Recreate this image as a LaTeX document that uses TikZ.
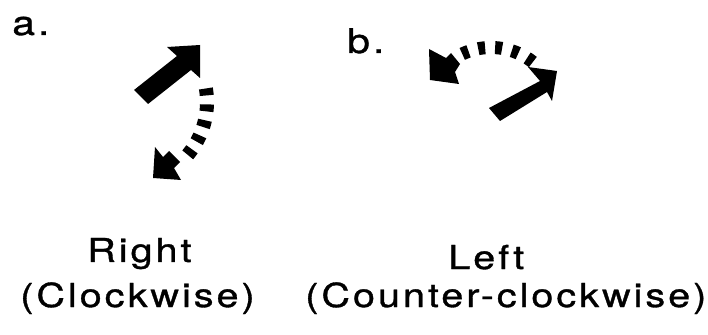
\documentclass[tikz,border=0pt]{standalone}
\usepackage{fontspec}
\setmainfont{TeX Gyre Heros}
\newfontfamily\capfont[LetterSpace=9,FakeStretch=1.2,FakeBold=1]{TeX Gyre Heros}
\begin{document}
\begin{tikzpicture}[x=0.75pt,y=-0.75pt,
  dasharc/.style={draw=black,line width=#1},
  caption/.style={anchor=base west,inner sep=0pt,
    font=\capfont\fontsize{24.75pt}{28pt}\selectfont},
  tag/.style={anchor=base west,inner sep=0pt,
    font=\capfont\fontsize{25.5pt}{30pt}\selectfont}]
\useasboundingbox (0,0) rectangle (708,335);

% a: straight arrow, then the dashed clockwise turn with its head
\fill (134,90) -- (177,56) -- (167,47) -- (200,45) -- (200,78)
      -- (191,70) -- (148,104) -- cycle;
\draw[dasharc=10.5pt,dash pattern=on 5.25pt off 6.75pt]
  plot[domain=-9.5:40.2,samples=40] ({125+82*cos(\x)},{102+82*sin(\x)});
\fill (153,178) -- (155,147) -- (163,157) -- (169,151) -- (180,162)
      -- (174,168) -- (181,180) -- cycle;

% b: straight arrow, then the dashed counter-clockwise turn with its head
\fill (489,108) -- (540,81) -- (528,67) -- (557,71) -- (552,101)
      -- (547,92) -- (500,121) -- cycle;
\draw[dasharc=9.75pt,dash pattern=on 5.25pt off 7.5pt]
  plot[domain=-51.7:-115.2,samples=40] ({491+67.5*cos(\x)},{115+67.5*sin(\x)});
\fill (430,80) -- (429,49) -- (446,58) -- (451,53) -- (460,64)
      -- (455,72) -- (459,84) -- cycle;

% labels
\node[tag] (tagA) at (12,35) {a.};
\node[tag] (tagB) at (347,53) {b.};
\node[caption] (right) at (87,262) {Right};
\node[caption] (cw) at (20,307) {(Clockwise)};
\node[caption] (left) at (448,269) {Left};
\node[caption] (ccw) at (305,307) {(Counter-clockwise)};
\end{tikzpicture}
\end{document}
